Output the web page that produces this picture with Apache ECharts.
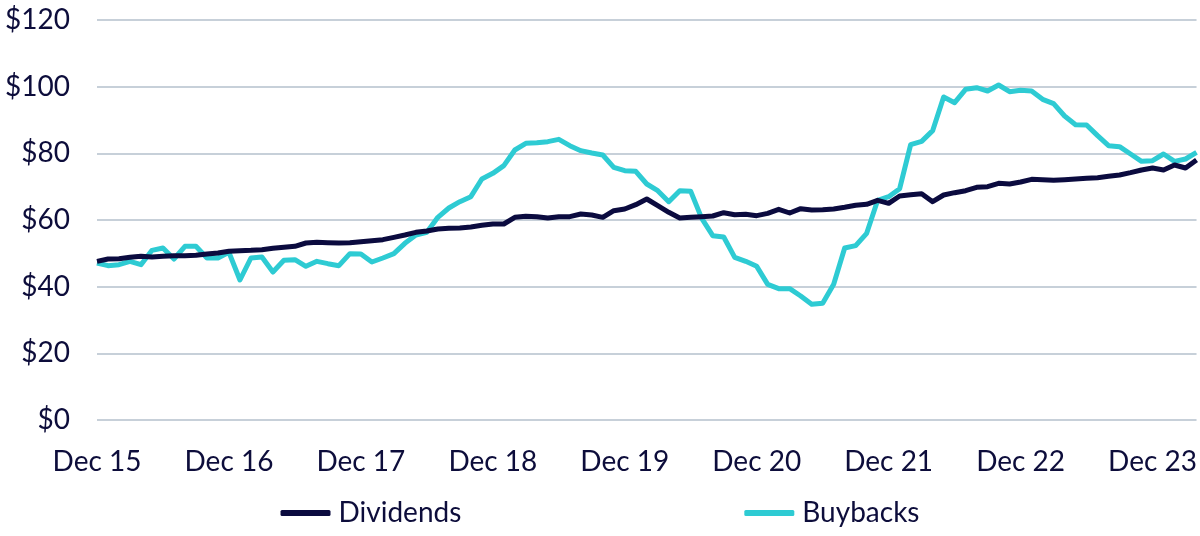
<!DOCTYPE html>
<html lang="en" style="height: 100%">
<head>
  <meta charset="UTF-8" />
  <title>Dividends vs Buybacks</title>
  <script src="https://cdn.jsdelivr.net/npm/echarts@6/dist/echarts.min.js"></script>
</head>
<body style="height: 100%; margin: 0; background: #fff">
  <div id="main" style="width: 1200px; height: 536px"></div>
  <script type="text/javascript">
    // monthly points, Dec 15 .. Apr 24
    var monthNames = ['Dec', 'Jan', 'Feb', 'Mar', 'Apr', 'May', 'Jun', 'Jul', 'Aug', 'Sep', 'Oct', 'Nov'];
    var firstYear = 15;
    var pointCount = 101;

    var dividends = [
      47.6, 48.3, 48.4, 48.8, 49.1, 48.9, 49.1, 49.3, 49.3, 49.4, 49.8, 50.1,
      50.6, 50.8, 50.9, 51.1, 51.5, 51.8, 52.1, 53.1, 53.3, 53.2, 53.1, 53.2,
      53.5, 53.8, 54.1, 54.8, 55.5, 56.3, 56.7, 57.3, 57.5, 57.6, 57.9, 58.4,
      58.8, 58.8, 60.8, 61.1, 61.0, 60.6, 61.0, 61.0, 61.8, 61.5, 60.8, 62.8,
      63.3, 64.6, 66.3, 64.3, 62.3, 60.6, 60.8, 61.0, 61.2, 62.2, 61.6, 61.7,
      61.3, 62.0, 63.2, 62.1, 63.4, 63.0, 63.1, 63.3, 63.8, 64.4, 64.7, 65.9,
      65.0, 67.2, 67.6, 67.9, 65.5, 67.5, 68.2, 68.8, 69.8, 70.0, 71.0, 70.8,
      71.4, 72.2, 72.1, 71.9, 72.1, 72.3, 72.5, 72.7, 73.1, 73.5, 74.2, 75.0,
      75.6, 75.0, 76.5, 75.6, 78.0
    ];

    var buybacks = [
      47.1, 46.3, 46.6, 47.6, 46.6, 50.9, 51.6, 48.3, 52.1, 52.1, 48.6, 48.6,
      50.3, 42.0, 48.6, 48.9, 44.4, 47.9, 48.1, 46.1, 47.6, 46.9, 46.3, 49.9,
      49.8, 47.4, 48.6, 49.9, 53.0, 55.5, 56.3, 60.8, 63.6, 65.5, 67.0, 72.3,
      74.0, 76.3, 81.0, 83.0, 83.2, 83.5, 84.2, 82.3, 80.8, 80.1, 79.5, 75.8,
      74.8, 74.6, 70.8, 68.8, 65.5, 68.8, 68.6, 60.5, 55.3, 54.9, 48.8, 47.6,
      46.1, 40.7, 39.4, 39.4, 37.2, 34.7, 35.0, 40.7, 51.6, 52.3, 56.0, 65.9,
      67.0, 69.4, 82.6, 83.6, 86.8, 96.9, 95.2, 99.2, 99.7, 98.7, 100.5, 98.5,
      98.9, 98.7, 96.2, 94.9, 91.2, 88.6, 88.5, 85.3, 82.3, 82.0, 79.8, 77.6,
      77.8, 79.8, 77.6, 78.3, 80.3
    ];

    var yTicks = [0, 20, 40, 60, 80, 100, 120];

    var categories = [];
    for (var i = 0; i < pointCount; i++) {
      var yr = firstYear + Math.floor((i + 11) / 12);
      categories.push(monthNames[i % 12] + ' ' + yr);
    }

    var textColor = '#0d0d3b';
    var gridColor = '#b4c0cc';
    var font = 'Lato, "Noto Sans", sans-serif';

    var myChart = echarts.init(document.getElementById('main'));

    var option = {
      animation: false,
      grid: { left: 97, right: 0, top: 20, bottom: 116, containLabel: false },
      xAxis: {
        type: 'category',
        data: categories,
        boundaryGap: false,
        axisLine: { show: false },
        axisTick: { show: false },
        axisLabel: {
          interval: 11,
          margin: 28,
          color: textColor,
          fontFamily: font,
          fontSize: 28
        },
        splitLine: { show: false }
      },
      yAxis: {
        type: 'value',
        min: yTicks[0],
        max: yTicks[yTicks.length - 1],
        interval: 20,
        axisLine: { show: false },
        axisTick: { show: false },
        axisLabel: {
          margin: 27,
          color: textColor,
          fontFamily: font,
          fontSize: 28,
          formatter: '${value}'
        },
        splitLine: { lineStyle: { color: gridColor, width: 1.5 } }
      },
      legend: {
        data: ['Dividends', 'Buybacks'],
        left: 'center',
        top: 494,
        icon: 'roundRect',
        itemWidth: 50,
        itemHeight: 6,
        itemGap: 283,
        textStyle: { color: textColor, fontFamily: font, fontSize: 28, padding: [0, 0, 0, 3] }
      },
      series: [
        {
          name: 'Dividends',
          type: 'line',
          data: dividends,
          symbol: 'none',
          color: '#0b0b3f',
          lineStyle: { width: 5, color: '#0b0b3f', join: 'round' },
          z: 3
        },
        {
          name: 'Buybacks',
          type: 'line',
          data: buybacks,
          symbol: 'none',
          color: '#2ecbd3',
          lineStyle: { width: 5, color: '#2ecbd3', join: 'round' },
          z: 2
        }
      ]
    };

    myChart.setOption(option);
    window.addEventListener('resize', myChart.resize);
  </script>
</body>
</html>
